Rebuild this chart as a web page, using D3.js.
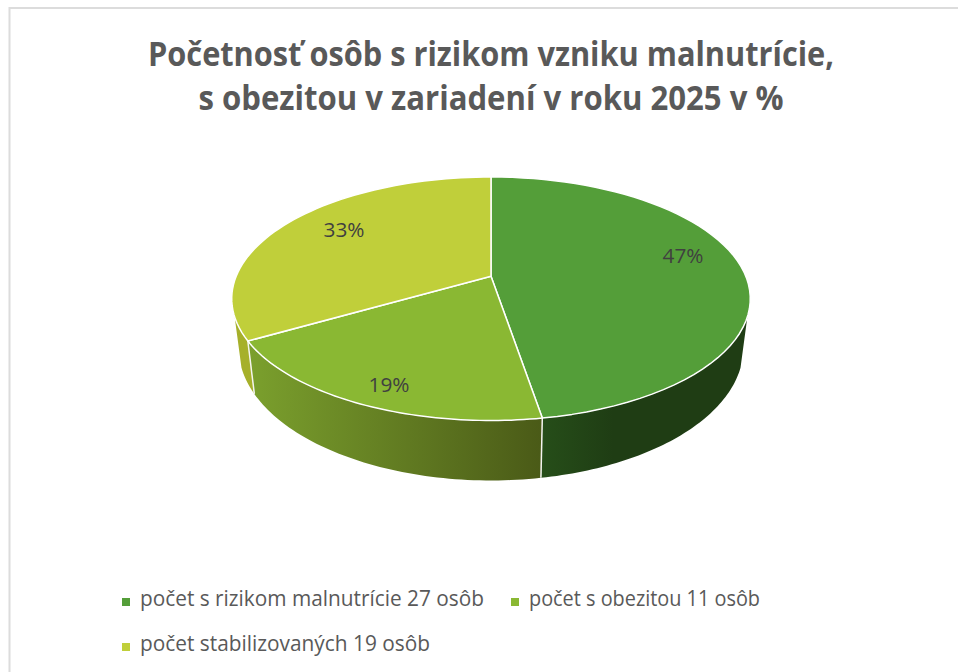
<!DOCTYPE html>
<html><head><meta charset="utf-8">
<script src="https://cdnjs.cloudflare.com/ajax/libs/d3/7.8.5/d3.min.js"></script>
<style>html,body{margin:0;padding:0;background:#fff}svg{display:block}</style>
</head><body><div id="c"></div>
<script>
const titleLines = ["Početnosť osôb s rizikom vzniku malnutrície,", "s obezitou v zariadení v roku 2025 v %"];
const categories = ["počet s rizikom malnutrície 27 osôb", "počet s obezitou 11 osôb", "počet stabilizovaných 19 osôb"];
const persons = [27, 11, 19];
const topColors = ["#549e39", "#8ab833", "#c0cf3a"];
const sideFrom = ["#264e19", "#7ba02d", "#a6b02a"];
const sideTo = ["#1f3d14", "#4a5a17", "#a6b02a"];

const W = 958, H = 672;
const svg = d3.select("#c").append("svg").attr("width", W).attr("height", H);
const FONT = "'Open Sans','Noto Sans',sans-serif";

svg.append("rect").attr("x", 9.5).attr("y", 8).attr("width", W).attr("height", H)
  .attr("fill", "#fff").attr("stroke", "#dcdcdc").attr("stroke-width", 2);

// titles
const titleY = [66, 110], titleW = [686, 585];
svg.selectAll("text.title").data(titleLines).join("text").attr("class", "title")
  .attr("x", 491).attr("y", (d, i) => titleY[i]).attr("text-anchor", "middle")
  .attr("font-family", FONT).attr("font-weight", 700).attr("font-size", 34)
  .attr("fill", "#595959").attr("textLength", (d, i) => titleW[i])
  .attr("lengthAdjust", "spacingAndGlyphs").text(d => d);

// perspective projection of a disc
function proj(p) {
  return a => {
    const u = Math.sin(a), v = -Math.cos(a), w = 1 - p.k * v;
    return [p.cx + p.A * u / w, p.cy + p.B * v / w];
  };
}
const topP = proj({cx: 491, cy: 276.2, A: 254.8, B: 117.6, k: 0.185});
const botP = proj({cx: 491, cy: 323.4, A: 248, B: 128, k: 0.185});

const pieData = d3.pie().sort(null).value(d => d)(persons);
const total = d3.sum(persons);
const pct = d3.format(".0%");
const line = d3.line();
const arcPts = (f, a0, a1) => d3.range(0, 61).map(i => f(a0 + (a1 - a0) * i / 60));

const VIS0 = 109 * Math.PI / 180, VIS1 = 251 * Math.PI / 180;

const defs = svg.append("defs");
const sideStopMid = [0.35, 1, 1];
pieData.forEach((d, i) => {
  const g = defs.append("linearGradient").attr("id", "side" + i)
    .attr("gradientUnits", "objectBoundingBox").attr("x1", 0).attr("x2", 1).attr("y1", 0).attr("y2", 0);
  g.append("stop").attr("offset", 0).attr("stop-color", sideFrom[i]);
  g.append("stop").attr("offset", sideStopMid[i]).attr("stop-color", sideTo[i]);
});

// side walls
const sides = svg.append("g");
pieData.forEach((d, i) => {
  const a0 = Math.max(d.startAngle, VIS0), a1 = Math.min(d.endAngle, VIS1);
  if (a1 <= a0) return;
  const pts = arcPts(topP, a0, a1).concat(arcPts(botP, a0, a1).reverse());
  sides.append("path").attr("d", line(pts) + "Z").attr("fill", `url(#side${i})`);
});
// white seams between wall segments
pieData.forEach(d => {
  const a = d.endAngle;
  if (a > VIS0 && a < VIS1) {
    sides.append("path").attr("d", line([topP(a), botP(a)]))
      .attr("stroke", "#f4f4f0").attr("stroke-width", 1.5).attr("fill", "none");
  }
});

// top slices
svg.append("g").selectAll("path").data(pieData).join("path")
  .attr("d", d => line([[491, 276.2]].concat(arcPts(topP, d.startAngle, d.endAngle))) + "Z")
  .attr("fill", (d, i) => topColors[i])
  .attr("stroke", "#fff").attr("stroke-width", 1.5).attr("stroke-linejoin", "round");

// data labels
const labelPos = [[683, 256], [389, 385], [344, 230]];
svg.append("g").selectAll("text").data(pieData).join("text")
  .attr("x", (d, i) => labelPos[i][0]).attr("y", (d, i) => labelPos[i][1] + 7)
  .attr("text-anchor", "middle").attr("font-family", FONT).attr("font-size", 20)
  .attr("fill", "#404040").attr("textLength", 41).attr("lengthAdjust", "spacingAndGlyphs")
  .text(d => pct(d.value / total));

// legend
const legendPos = [[122, 606], [511, 606], [122, 651]];
const legendW = [344, 231, 290];
const lg = svg.append("g").selectAll("g").data(categories).join("g")
  .attr("transform", (d, i) => `translate(${legendPos[i][0]},${legendPos[i][1]})`);
lg.append("rect").attr("x", 0).attr("y", -8).attr("width", 8).attr("height", 8)
  .attr("fill", (d, i) => topColors[i]);
lg.append("text").attr("x", 18).attr("y", 0).attr("font-family", FONT).attr("font-size", 21)
  .attr("fill", "#595959").attr("textLength", (d, i) => legendW[i])
  .attr("lengthAdjust", "spacingAndGlyphs").text(d => d);
</script></body></html>
